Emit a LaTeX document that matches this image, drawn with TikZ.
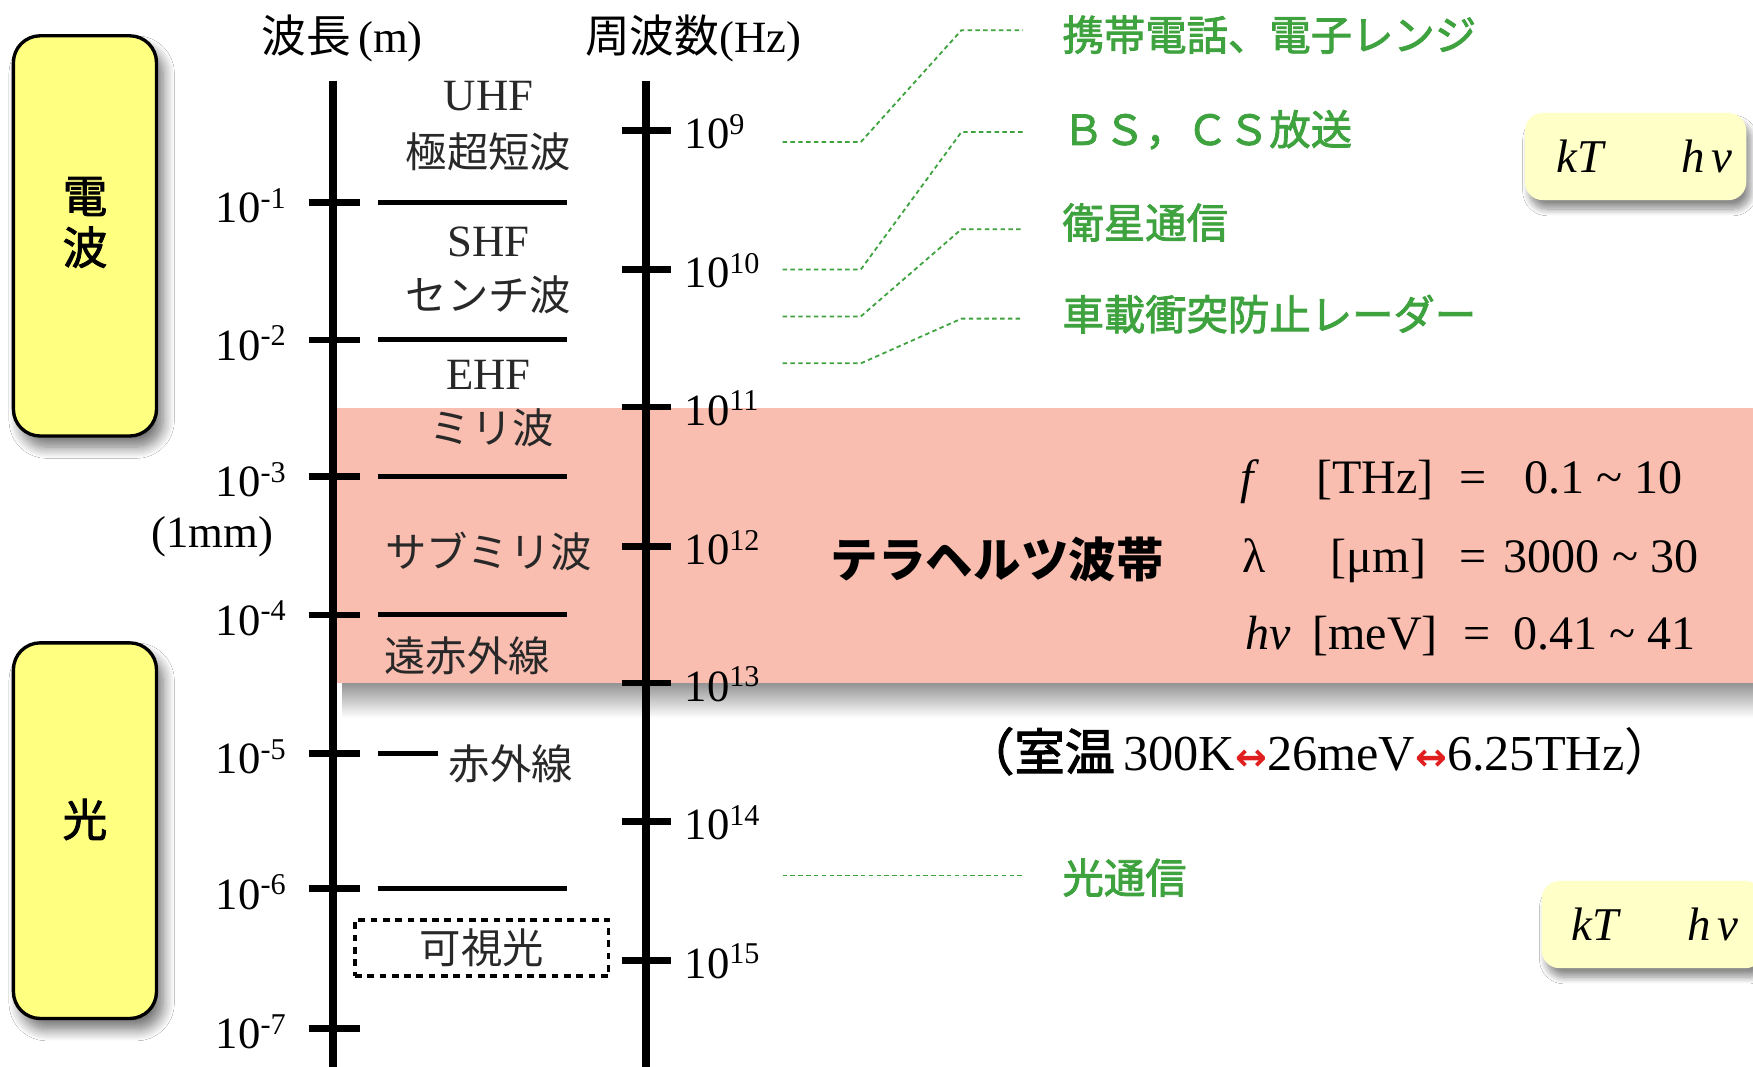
\documentclass[tikz,border=0pt]{standalone}
\usepackage{fontspec}
\setmainfont{Liberation Serif}
\newfontfamily\cjk{Noto Sans CJK JP}
\newfontfamily\cjkm{Noto Sans CJK JP}[FakeBold=2]
\newfontfamily\arrfont{DejaVu Sans}
\usetikzlibrary{shadows.blur}
\definecolor{sideyellow}{RGB}{255,255,128}
\definecolor{kyellow}{RGB}{255,255,200}
\definecolor{thzpink}{RGB}{249,190,176}
\definecolor{lgreen}{RGB}{62,162,62}
\definecolor{txtgray}{RGB}{40,40,40}
\definecolor{arrred}{RGB}{225,30,30}
\newcommand\pten[1]{10\raisebox{6.5pt}{\fontsize{13.5}{13.5}\selectfont #1}}
\begin{document}
\begin{tikzpicture}[x=0.5pt,y=-0.5pt,
  every node/.style={inner sep=1pt},
  axisline/.style={line width=3.5pt},
  tickline/.style={line width=3pt},
  sepline/.style={line width=2.2pt},
  num/.style={font=\fontsize{20}{24}\selectfont},
  lat/.style={font=\fontsize{20}{24}\selectfont, text=txtgray},
  band/.style={font=\cjk\fontsize{18.5}{22}\selectfont, text=txtgray},
  glabel/.style={font=\cjkm\fontsize{18.5}{22}\selectfont, text=lgreen, anchor=west},
  lead/.style={draw=lgreen, line width=0.8pt, dash pattern=on 2pt off 1.5pt},
  sidebox/.style={draw=black, line width=1.5pt, fill=sideyellow, rounded corners=12pt, minimum width=64pt, blur shadow={shadow xshift=3pt, shadow yshift=-5pt, shadow blur radius=5pt, shadow blur steps=12, shadow opacity=55}},
  kbox/.style={fill=kyellow, rounded corners=8pt, minimum width=99pt, minimum height=39pt, blur shadow={shadow xshift=2pt, shadow yshift=-4pt, shadow blur radius=3pt, shadow blur steps=10, shadow opacity=45}},
  kt/.style={font=\itshape\fontsize{21}{24}\selectfont, anchor=base},
  fml/.style={font=\fontsize{21.5}{25}\selectfont, anchor=base},
]
\useasboundingbox (0,0) rectangle (1568,954);
\clip (0,0) rectangle (1568,954);
\fill[white] (0,0) rectangle (1568,954);

% terahertz band with soft shadow below
\shade[top color=black!45, bottom color=white] (306,609) rectangle (1600,642);
\fill[thzpink] (301,365) rectangle (1600,611);

% side boxes
\node[sidebox, minimum height=179pt] (radio) at (76,211) {};
\node[font=\cjkm\fontsize{20}{23}\selectfont, align=center] (radiotxt) at (76,199) {電\\波};
\node[sidebox, minimum height=168pt] (light) at (76,743) {};
\node[font=\cjkm\fontsize{20}{23}\selectfont] (lighttxt) at (76,733) {光};

% headers
\node[num] (wlhead) at (306,34) {{\cjk 波長}\,(m)};
\node[num] (fqhead) at (620,34) {{\cjk 周波数}(Hz)};

% axes
\draw[axisline] (298,72) -- (298,960);
\draw[axisline] (578,72) -- (578,960);

% wavelength ticks
\foreach \y/\e in {181/-1,304/-2,426/-3,550/-4,674/-5,795/-6,920/-7} {
  \draw[tickline] (276,\y) -- (322,\y);
  \node[num, anchor=east, name=wl\e] at (258,\y+3) {\pten{\e}};
}
% frequency ticks
\foreach \y/\e in {117/9,241/10,364/11,489/12,611/13,735/14,859/15} {
  \draw[tickline] (556,\y) -- (600,\y);
  \node[num, anchor=west, name=fq\e] at (610,\y+1) {\pten{\e}};
}
% band separators
\foreach \y in {181,304,426,550,795} {
  \draw[sepline] (338,\y) -- (507,\y);
}
\draw[sepline] (338,674) -- (392,674);

\node[num] (onemm) at (190,480) {(1mm)};

% band labels
\node[lat] (uhf) at (437,86) {UHF};
\node[band] (uhfj) at (437,136) {極超短波};
\node[lat] (shf) at (437,216) {SHF};
\node[band] (shfj) at (437,264) {センチ波};
\node[lat] (ehf) at (437,335) {EHF};
\node[band] (ehfj) at (440,383) {ミリ波};
\node[band] (submm) at (437,493) {サブミリ波};
\node[band] (fir) at (418,587) {遠赤外線};
\node[band] (ir) at (457,683) {赤外線};
\node[band, draw=black, line width=1.5pt, dash pattern=on 3pt off 2.5pt, minimum width=113.5pt, minimum height=25pt] (vis) at (431,848) {可視光};

% green labels and leaders
\node[glabel] (g1) at (948,31) {携帯電話、電子レンジ};
\node[glabel] (g2) at (948,116) {ＢＳ，ＣＳ放送};
\node[glabel] (g3) at (948,199) {衛星通信};
\node[glabel] (g4) at (948,281) {車載衝突防止レーダー};
\node[glabel] (g5) at (948,785) {光通信};
\coordinate (s1) at (700,127); \coordinate (e1) at (915,27);
\coordinate (s2) at (700,241); \coordinate (e2) at (915,118);
\coordinate (s3) at (700,283); \coordinate (e3) at (915,205);
\coordinate (s4) at (700,325); \coordinate (e4) at (915,285);
\coordinate (s5) at (700,783); \coordinate (e5) at (915,783);
\draw[lead] (s1) -- ++(70,0) -- ++(90,-100) -- (e1);
\draw[lead] (s2) -- ++(70,0) -- ++(90,-123) -- (e2);
\draw[lead] (s3) -- ++(70,0) -- ++(90,-78) -- (e3);
\draw[lead] (s4) -- ++(70,0) -- ++(90,-40) -- (e4);
\draw[lead] (s5) -- (e5);

% terahertz band text
\node[font=\cjk\bfseries\fontsize{21.25}{25}\selectfont] (thz) at (892,500) {テラヘルツ波帯};
\node[fml] (fsym) at (1118,441) {\textit{f}};
\node[fml] (funit) at (1230,441) {[THz]};
\node[fml] (feq) at (1318,441) {=};
\node[fml] (fval) at (1434,441) {0.1 \textasciitilde{} 10};
\node[fml] (lsym) at (1122,512) {λ};
\node[fml] (lunit) at (1233,512) {[μm]};
\node[fml] (leq) at (1318,512) {=};
\node[fml] (lval) at (1432,512) {3000 \textasciitilde{} 30};
\node[fml] (hsym) at (1134,581) {\textit{hν}};
\node[fml] (hunit) at (1230,581) {[meV]};
\node[fml] (heq) at (1321,581) {=};
\node[fml] (hval) at (1435,581) {0.41 \textasciitilde{} 41};

\node[font=\fontsize{22.5}{26}\selectfont, anchor=west] (room) at (860,672) {{\cjkm （室温}\,300K{\arrfont\bfseries\fontsize{17}{17}\selectfont\color{arrred}↔}26meV{\arrfont\bfseries\fontsize{17}{17}\selectfont\color{arrred}↔}6.25THz{\cjk ）}};

% kT boxes
\node[kbox] (kb1) at (1463,140) {};
\node[kt] (kt1) at (1413,154) {kT};
\node[kt] (hv1) at (1527,154) {h\hspace{3pt}ν};
\node[kbox] (kb2) at (1478,827) {};
\node[kt] (kt2) at (1427,841) {kT};
\node[kt] (hv2) at (1532,841) {h\hspace{3pt}ν};
\end{tikzpicture}
\end{document}
